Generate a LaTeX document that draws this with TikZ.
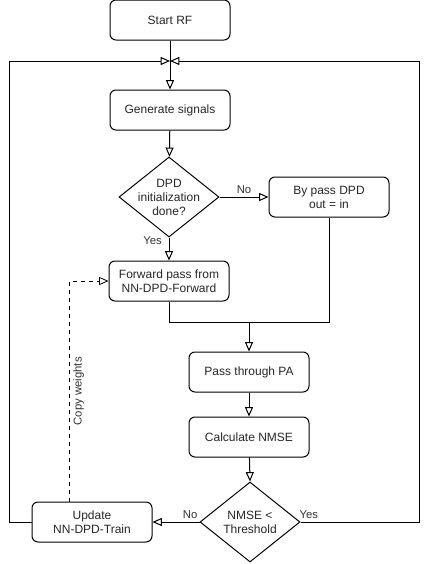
\documentclass[tikz,border=0pt]{standalone}
\usepackage{fontspec}
\setmainfont{Liberation Sans}
\usetikzlibrary{arrows.meta,shapes.geometric,calc}

\tikzset{
  box/.style={draw, rounded corners=4.5pt, line width=0.75pt, minimum width=90pt, minimum height=30pt, align=center, inner sep=0pt},
  decision/.style={draw, diamond, line width=0.75pt, minimum width=75pt, minimum height=60pt, inner sep=0pt},
  flow/.style={line width=0.75pt, -{Triangle[open, length=7pt, width=6pt]}},
  wire/.style={line width=0.75pt},
  tag/.style={font=\fontsize{8.5}{10}\selectfont, text=black!80, inner sep=2pt}
}

\begin{document}
\begin{tikzpicture}[x=0.75pt, y=-0.75pt, font=\fontsize{9}{10.5}\selectfont, text=black!85]
\useasboundingbox (0,0) rectangle (430,564);

  \node[box] (start) at (170,20) {Start RF};
  \node[box] (gen) at (170,110) {Generate signals};
  \node[decision, label={[align=center]center:DPD\\initialization\\done?}] (dpd) at (169,197) {};
  \node[box] (byp) at (329,197) {By pass DPD\\out = in};
  \node[box] (fwd) at (169,281) {Forward pass from\\NN-DPD-Forward};
  \node[box] (pa) at (249,372) {Pass through PA};
  \node[box] (nmse) at (249,437) {Calculate NMSE};
  \node[decision, label={[align=center]center:NMSE <\\Threshold}] (thr) at (250,522) {};
  \node[box] (upd) at (92,522) {Update\\NN-DPD-Train};

  \coordinate (top) at (170,61);
  \coordinate (mrg) at (249,322);

  % main flow
  \draw[flow] (start) -- (gen);
  \draw[flow] (gen) -- (dpd);
  \draw[flow] (dpd.east) -- node[tag, above, pos=0.5] {No} (byp.west);
  \draw[flow] (dpd.south) -- node[tag, left, pos=0.15, xshift=-3pt] {Yes} (fwd.north);
  \draw[wire] (fwd.south) |- (byp.south |- mrg) -- (byp.south);
  \draw[flow] (mrg) -- (pa);
  \draw[flow] (pa) -- (nmse);
  \draw[flow] (nmse) -- (thr.north);
  \draw[flow] (thr.west) -- node[tag, above, pos=0.2] {No} (upd.east);

  % loops back to the top
  \draw[flow] (upd.west) -- ++(-22,0) |- (top);
  \draw[flow] (thr.east) -- node[tag, above, pos=0.07] {Yes} ++(119,0) |- (top);

  % weights
  \draw[flow, dashed, line width=0.6pt] ($(upd.north)+(-23,0)$) |- node[tag, pos=0.25, rotate=90, anchor=north, fill=white, yshift=-1pt] {Copy weights} (fwd.west);
\end{tikzpicture}
\end{document}
